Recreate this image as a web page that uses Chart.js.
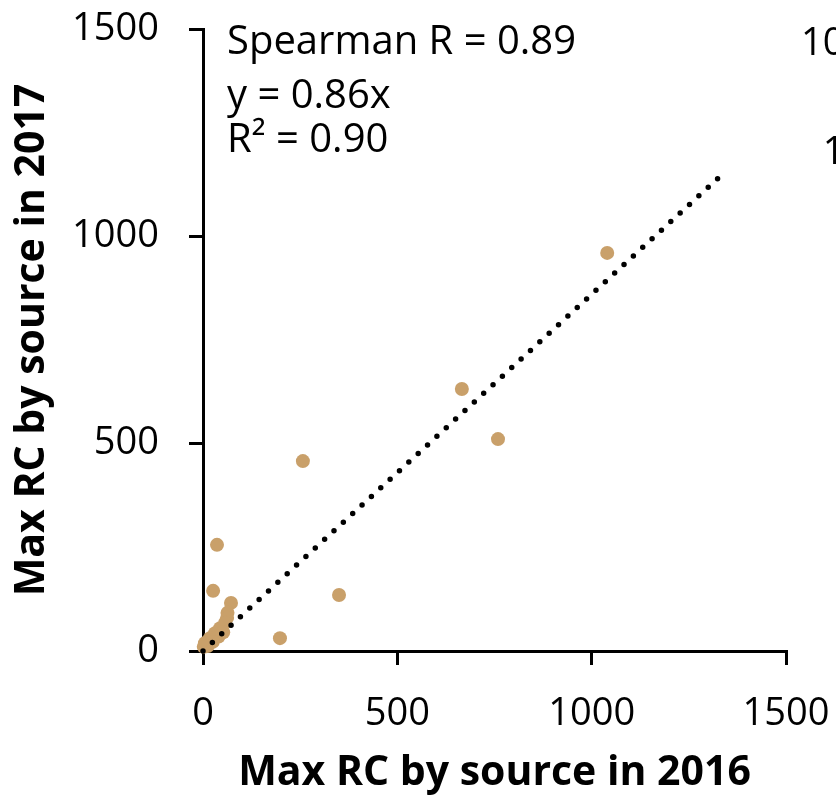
<!DOCTYPE html>
<html lang="en">
<head>
  <meta charset="UTF-8">
  <title>Max RC by source</title>
  <script src="https://cdn.jsdelivr.net/npm/chart.js"></script>
  <style>
    body {
      margin: 0;
      background: #ffffff;
    }
    canvas {
      display: block;
    }
  </style>
</head>
<body>
  <canvas id="rcChart" width="836" height="800"></canvas>

  <script>
    // values
    const rc2016 = [1040, 666, 759, 257, 350, 198, 36, 26, 72, 63, 62, 57, 44, 31, 18, 5, 2, 52, 40, 25, 12];
    const rc2017 = [960, 632, 511, 458, 135, 31, 256, 145, 116, 92, 80, 68, 55, 43, 31, 19, 10, 45, 35, 22, 12];
    const trendX = [0, 1325];
    const trendY = [0, 1140];
    const tickValues = [0, 500, 1000, 1500];
    const statLines = ['Spearman R = 0.89', 'y = 0.86x', 'R\u00B2 = 0.90'];

    const fontName = "'Open Sans', 'Noto Sans', sans-serif";

    const points = rc2016.map((x, i) => ({ x: x, y: rc2017[i] }));
    const trend = trendX.map((x, i) => ({ x: x, y: trendY[i] }));

    // regression stats in the top-left corner + the cut-off labels of the next panel
    const textPlugin = {
      id: 'statText',
      afterDraw(chart) {
        const ctx = chart.ctx;
        ctx.save();
        ctx.fillStyle = '#000';
        ctx.font = '40px ' + fontName;
        ctx.textAlign = 'left';
        ctx.textBaseline = 'middle';
        ctx.fillText(statLines[0], 227, 43);
        ctx.fillText(statLines[1], 227, 97);
        ctx.fillText(statLines[2], 227, 141);
        ctx.font = '38px ' + fontName;
        ctx.textAlign = 'right';
        ctx.fillText('1000', 888, 44);
        ctx.fillText('100', 888, 153);
        ctx.restore();
      }
    };

    const axisStyle = {
      grid: { display: true, drawOnChartArea: false, drawTicks: true, tickLength: 14, color: '#000', lineWidth: 3 },
      border: { display: true, color: '#000', width: 3 }
    };

    const plainLabel = v => String(v);
    // keep the plot area where the layout padding puts it
    const noLabelPadding = s => {
      s.paddingLeft = 0;
      s.paddingRight = 0;
      s.paddingTop = 0;
      s.paddingBottom = 0;
    };

    new Chart(document.getElementById('rcChart').getContext('2d'), {
      type: 'scatter',
      data: {
        datasets: [
          {
            label: 'sources',
            data: points,
            backgroundColor: 'rgb(201, 160, 106)',
            borderWidth: 0,
            pointRadius: 7,
            pointHoverRadius: 7,
            clip: false,
            order: 2
          },
          {
            type: 'line',
            label: 'trend',
            data: trend,
            borderColor: '#000',
            borderWidth: 5.5,
            borderDash: [0, 12.7],
            borderCapStyle: 'round',
            pointRadius: 0,
            fill: false,
            clip: false,
            order: 1
          }
        ]
      },
      options: {
        responsive: false,
        animation: false,
        layout: { padding: { top: 29, right: 50, left: 0, bottom: 0 } },
        plugins: {
          legend: { display: false },
          tooltip: { enabled: false }
        },
        scales: {
          x: {
            type: 'linear',
            min: 0,
            max: 1500,
            afterBuildTicks: s => { s.ticks = tickValues.map(v => ({ value: v })); },
            afterFit: s => { s.height = 149; noLabelPadding(s); },
            ticks: { color: '#000', font: { family: fontName, size: 38 }, padding: 26, maxRotation: 0, callback: plainLabel },
            title: {
              display: true,
              text: 'Max RC by source in 2016',
              color: '#000',
              font: { family: fontName, size: 41, weight: 'bold' },
              padding: { top: 0, bottom: 2 }
            },
            ...axisStyle
          },
          y: {
            type: 'linear',
            min: 0,
            max: 1500,
            afterBuildTicks: s => { s.ticks = tickValues.map(v => ({ value: v })); },
            afterFit: s => { s.width = 203; noLabelPadding(s); },
            ticks: { color: '#000', font: { family: fontName, size: 38 }, padding: 30, callback: plainLabel },
            title: {
              display: true,
              text: 'Max RC by source in 2017',
              color: '#000',
              font: { family: fontName, size: 41, weight: 'bold' },
              padding: { top: 8, bottom: 0 }
            },
            ...axisStyle
          }
        }
      },
      plugins: [textPlugin]
    });
  </script>
</body>
</html>
